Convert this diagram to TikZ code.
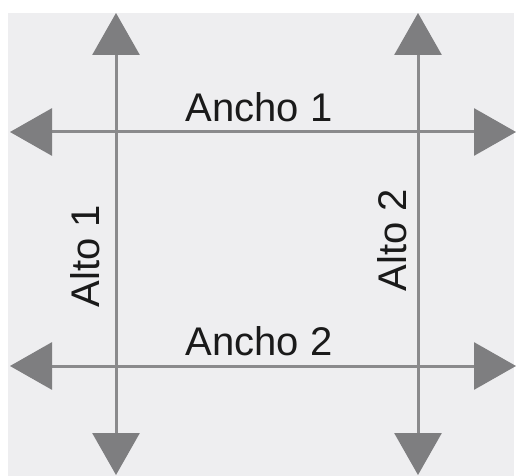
\documentclass[tikz,border=0pt]{standalone}
\usepackage{fontspec}
\setmainfont{Liberation Sans}
\usetikzlibrary{arrows.meta}
\definecolor{bg}{HTML}{EEEEF0}
\definecolor{ln}{HTML}{8A8A8C}
\definecolor{tip}{HTML}{7E7E80}
\definecolor{txt}{HTML}{1A1A1A}
\tikzset{
  axis/.style={draw=ln, line width=3pt,
    {Triangle[length=42pt,width=47pt,color=tip,fill=tip]}-{Triangle[length=42pt,width=47pt,color=tip,fill=tip]}},
  lbl/.style={text=txt, font=\fontsize{40}{44}\selectfont, inner sep=0pt, anchor=base}
}
\begin{document}
\begin{tikzpicture}[x=1pt,y=-1pt]
\useasboundingbox (0,0) rectangle (517,476);
\fill[bg] (8,13) rectangle (514,476);
\coordinate (v1t) at (116,13);
\coordinate (v1b) at (116,475);
\coordinate (v2t) at (418,13);
\coordinate (v2b) at (418,475);
\coordinate (h1l) at (10,132);
\coordinate (h1r) at (516,132);
\coordinate (h2l) at (10,366);
\coordinate (h2r) at (516,366);
\draw[axis] (h1l) -- (h1r);
\draw[axis] (h2l) -- (h2r);
\draw[axis] (v1t) -- (v1b);
\draw[axis] (v2t) -- (v2b);
\node[lbl] (a1) at (259,122) {Ancho 1};
\node[lbl] (a2) at (259,355) {Ancho 2};
\node[lbl, rotate=90] (l1) at (99,256) {Alto 1};
\node[lbl, rotate=90] (l2) at (406,240) {Alto 2};
\end{tikzpicture}
\end{document}
